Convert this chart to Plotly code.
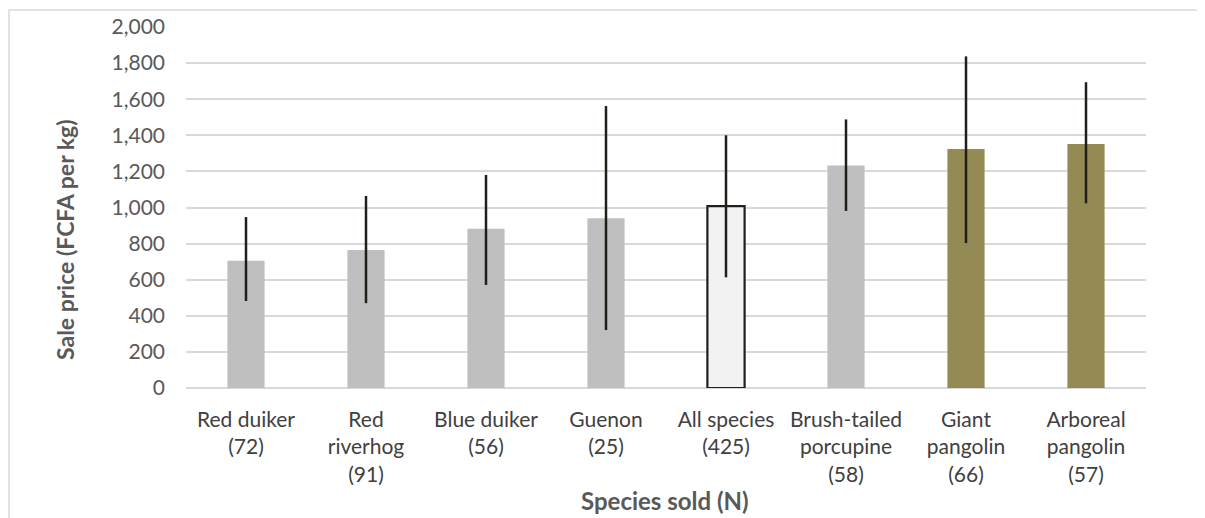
import plotly.graph_objects as go

categories = ["Red duiker<br>(72)", "Red<br>riverhog<br>(91)", "Blue duiker<br>(56)", "Guenon<br>(25)",
              "All species<br>(425)", "Brush-tailed<br>porcupine<br>(58)", "Giant<br>pangolin<br>(66)",
              "Arboreal<br>pangolin<br>(57)"]
mean_price = [705, 765, 882, 940, 1008, 1232, 1324, 1352]
upper_price = [947, 1064, 1180, 1562, 1400, 1488, 1837, 1694]
lower_price = [482, 470, 571, 321, 613, 981, 803, 1023]
y_ticks = [0, 200, 400, 600, 800, 1000, 1200, 1400, 1600, 1800, 2000]

fill_colors = ["#bfbfbf", "#bfbfbf", "#bfbfbf", "#bfbfbf", "#f2f2f2", "#bfbfbf", "#948a54", "#948a54"]
line_colors = ["#bfbfbf", "#bfbfbf", "#bfbfbf", "#bfbfbf", "#231f18", "#bfbfbf", "#948a54", "#948a54"]
line_widths = [0, 0, 0, 0, 2.2, 0, 0, 0]

err_plus = [u - m for u, m in zip(upper_price, mean_price)]
err_minus = [m - l for m, l in zip(mean_price, lower_price)]

fig = go.Figure()
fig.add_trace(go.Bar(
    x=categories, y=mean_price, width=0.31,
    marker=dict(color=fill_colors, line=dict(color=line_colors, width=line_widths)),
    error_y=dict(type="data", symmetric=False, array=err_plus, arrayminus=err_minus,
                 width=0, thickness=2.5, color="#231f18"),
))

W, H = 1205, 518
ml, mr, mt, mb = 178, 67, 19, 138
pw, ph = W - ml - mr, H - mt - mb


def px_x(x):
    return (x - ml) / pw


def px_y(y):
    return 1 - (y - mt) / ph


fig.update_layout(
    width=W, height=H,
    margin=dict(l=ml, r=mr, t=mt, b=mb, autoexpand=False),
    plot_bgcolor="white", paper_bgcolor="white",
    showlegend=False,
    font=dict(family="Lato, Open Sans, sans-serif", size=21, color="#404040"),
    xaxis=dict(showgrid=False, zeroline=False, showline=False, ticks="", automargin=False,
               ticklabelstandoff=17, tickfont=dict(size=21, color="#404040")),
    yaxis=dict(range=[0, 2000], tickvals=y_ticks, tickformat=",", showgrid=True, automargin=False,
               gridcolor="#d9d9d9", gridwidth=1.5, zeroline=True, zerolinecolor="#d9d9d9", zerolinewidth=1.5,
               showline=False, ticks="", ticklabelstandoff=20,
               tickfont=dict(size=21, color="#595959")),
    annotations=[
        dict(text="<b>Sale price (FCFA per kg)</b>", xref="paper", yref="paper",
             x=px_x(57), y=px_y(232), xanchor="center", yanchor="middle", textangle=-90,
             showarrow=False, font=dict(size=23, color="#595959")),
        dict(text="<b>Species sold (N)</b>", xref="paper", yref="paper",
             x=px_x(657), y=px_y(492), xanchor="center", yanchor="middle",
             showarrow=False, font=dict(size=24, color="#595959")),
    ],
    shapes=[dict(type="rect", xref="paper", yref="paper",
                 x0=px_x(1), x1=px_x(1215), y0=px_y(540), y1=px_y(2),
                 line=dict(color="#d9d9d9", width=1.5), fillcolor="rgba(0,0,0,0)", layer="below")],
)

fig.write_html("out.html")
